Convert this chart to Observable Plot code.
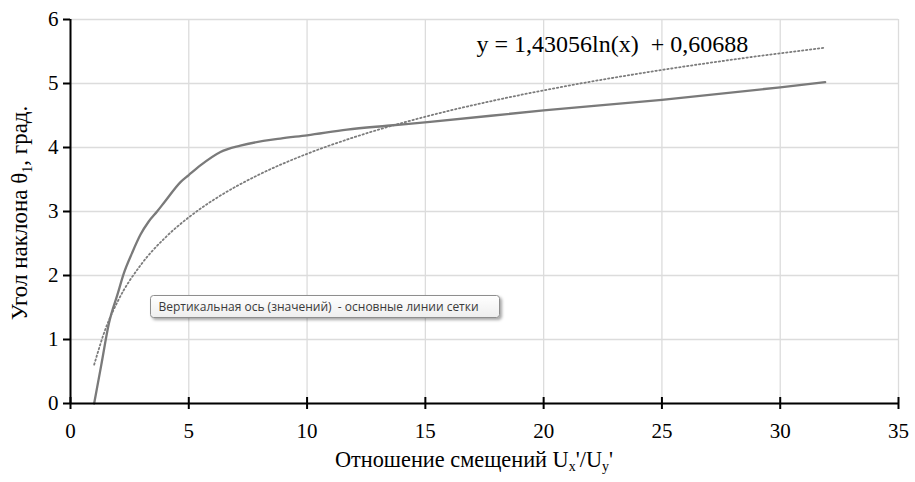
<!DOCTYPE html>
<html><head><meta charset="utf-8">
<script src="https://cdn.jsdelivr.net/npm/d3@7"></script>
<script src="https://cdn.jsdelivr.net/npm/@observablehq/plot@0.6"></script>
<style>body{margin:0;background:#fff}</style>
</head><body><div id="chart"></div>
<script>
// Measured curve: displacement ratio vs inclination angle
const ratioX = [1, 1.3, 1.62, 2, 2.25, 2.6, 2.96, 3.3, 3.66, 4.0, 4.65, 5.0, 5.49, 6.34, 7.18, 8.87, 10, 11.69, 13.38, 15.2, 20, 25, 30, 31.9];
const angleY = [0, 0.6, 1.245, 1.72, 2.03, 2.35, 2.64, 2.84, 3.0, 3.16, 3.46, 3.57, 3.72, 3.93, 4.03, 4.14, 4.19, 4.28, 4.34, 4.40, 4.58, 4.745, 4.94, 5.02];
// Logarithmic trend line
const trendX = [1, 1.5, 2, 3, 4, 5, 6, 8, 10, 12, 15, 18, 20, 25, 28, 31.9];
const trendY = [0.607, 1.187, 1.599, 2.179, 2.590, 2.909, 3.170, 3.582, 3.901, 4.162, 4.481, 4.742, 4.893, 5.212, 5.374, 5.560];
const xTicks = [0, 5, 10, 15, 20, 25, 30, 35];
const yTicks = [0, 1, 2, 3, 4, 5, 6];
const equationText = "y = 1,43056ln(x)  + 0,60688";
const tooltipText = "Вертикальная ось (значений)  - основные линии сетки";
const yTitleParts = ["Угол наклона θ", "1", ", град."];
const xTitleParts = ["Отношение смещений U", "x", "'/U", "y", "'"];

const measured = ratioX.map((x, i) => ({x, y: angleY[i]}));
const trend = trendX.map((x, i) => ({x, y: trendY[i]}));
const serif = "'Liberation Serif', 'Times New Roman', serif";

const chart = Plot.plot({
  width: 915, height: 482,
  marginLeft: 70, marginRight: 17, marginTop: 19, marginBottom: 79,
  style: {fontFamily: serif, fontSize: "21px", color: "#000", background: "#fff", overflow: "visible"},
  x: {domain: [0, 35], ticks: xTicks, label: null},
  y: {domain: [0, 6], ticks: yTicks, label: null},
  marks: [
    Plot.gridX(xTicks, {stroke: "#dcdcdc", strokeOpacity: 1, strokeWidth: 1.3}),
    Plot.gridY(yTicks, {stroke: "#dcdcdc", strokeOpacity: 1, strokeWidth: 1.3}),
    Plot.line(trend, {x: "x", y: "y", stroke: "#7c7c7c", strokeWidth: 1.8, strokeDasharray: "1.4 2.6", curve: "monotone-x"}),
    Plot.line(measured, {x: "x", y: "y", stroke: "#7a7a7a", strokeWidth: 2.3, curve: "monotone-x"}),
    Plot.ruleX([0], {stroke: "#000", strokeWidth: 2}),
    Plot.ruleY([0], {stroke: "#000", strokeWidth: 2}),
    Plot.axisY({ticks: yTicks, tickFormat: d3.format("d"), tickSize: 7, tickPadding: 5, fontSize: 21, strokeWidth: 2, label: null}),
    Plot.axisX({ticks: xTicks, tickFormat: d3.format("d"), tickSize: 12, dy: -6, tickPadding: 14, fontSize: 21, strokeWidth: 2, label: null}),
    Plot.text([equationText], {frameAnchor: "top-left", dx: 406, dy: 15, text: d => d, textAnchor: "start", fontSize: 24, fill: "#000"})
  ]
});
document.getElementById("chart").appendChild(chart);

const svg = d3.select(chart);
svg.selectAll("text").style("white-space", "pre");

// Axis titles
const yt = svg.append("text")
  .attr("transform", "translate(26.5,213) rotate(-90)")
  .attr("text-anchor", "middle")
  .style("font-family", serif).style("font-size", "23px").attr("fill", "#000");
yt.append("tspan").text(yTitleParts[0]);
yt.append("tspan").attr("dy", 5).style("font-size", "14px").text(yTitleParts[1]);
yt.append("tspan").attr("dy", -5).text(yTitleParts[2]);

const xt = svg.append("text")
  .attr("x", 474).attr("y", 467)
  .attr("text-anchor", "middle")
  .style("font-family", serif).style("font-size", "22.3px").attr("fill", "#000");
xt.append("tspan").text(xTitleParts[0]);
xt.append("tspan").attr("dy", 4).style("font-size", "14px").text(xTitleParts[1]);
xt.append("tspan").attr("dy", -4).text(xTitleParts[2]);
xt.append("tspan").attr("dy", 4).style("font-size", "14px").text(xTitleParts[3]);
xt.append("tspan").attr("dy", -4).text(xTitleParts[4]);

// Tooltip box
const defs = svg.append("defs");
const grad = defs.append("linearGradient").attr("id", "tipGrad").attr("x1", 0).attr("y1", 0).attr("x2", 0).attr("y2", 1);
grad.append("stop").attr("offset", "0%").attr("stop-color", "#ffffff");
grad.append("stop").attr("offset", "100%").attr("stop-color", "#eeeeee");
const filt = defs.append("filter").attr("id", "tipShadow").attr("x", "-10%").attr("y", "-50%").attr("width", "120%").attr("height", "200%");
filt.append("feDropShadow").attr("dx", 2).attr("dy", 2).attr("stdDeviation", 1.5).attr("flood-color", "#000").attr("flood-opacity", 0.35);
const tip = svg.append("g").attr("transform", "translate(150.5,295.5)");
tip.append("rect").attr("width", 349).attr("height", 22).attr("rx", 3)
  .attr("fill", "url(#tipGrad)").attr("stroke", "#8e8e8e").attr("filter", "url(#tipShadow)");
tip.append("text").attr("x", 8).attr("y", 15.5).attr("text-anchor", "start").text(tooltipText)
  .style("font-family", "'Open Sans', 'Noto Sans', sans-serif").style("font-size", "12px")
  .style("white-space", "pre").attr("fill", "#3a3a3a");
</script>
</body></html>
